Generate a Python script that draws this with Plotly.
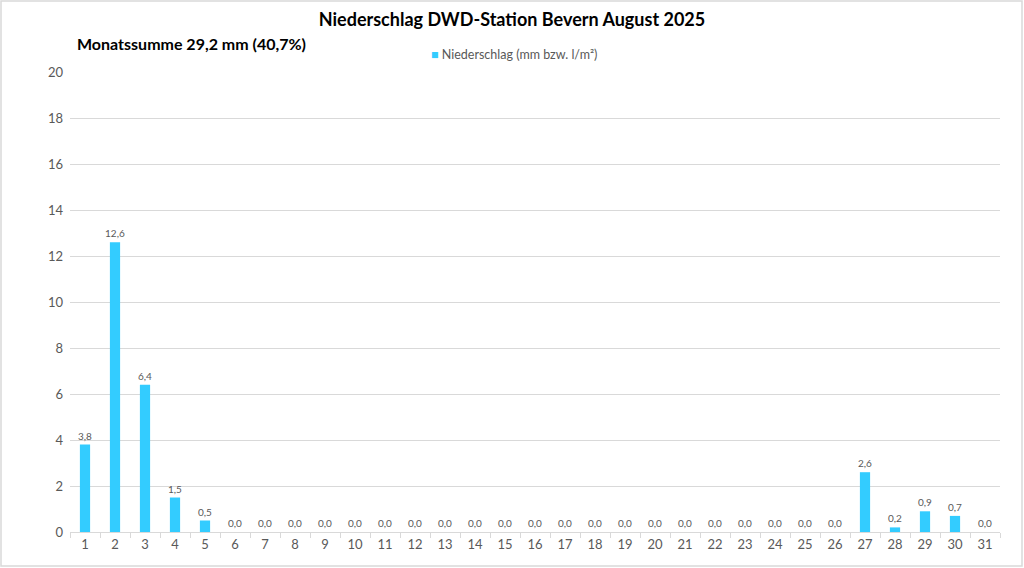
import plotly.graph_objects as go

days = [str(d) for d in range(1, 32)]
rain = [3.8, 12.6, 6.4, 1.5, 0.5, 0.0, 0.0, 0.0, 0.0, 0.0, 0.0, 0.0, 0.0, 0.0, 0.0, 0.0,
        0.0, 0.0, 0.0, 0.0, 0.0, 0.0, 0.0, 0.0, 0.0, 0.0, 2.6, 0.2, 0.9, 0.7, 0.0]
y_ticks = list(range(0, 21, 2))

W, H = 1024, 568
L, R, T, B = 70, 24, 72, 36
pw, ph = W - L - R, H - T - B

font = "Lato, 'Open Sans', sans-serif"
bar_color = "#33CCFF"

fig = go.Figure()
fig.add_trace(go.Bar(
    x=days, y=rain, name="Niederschlag (mm bzw. l/m²)", showlegend=False,
    marker=dict(color=bar_color, line=dict(width=0)),
    texttemplate="%{y:.1f}", textposition="outside", cliponaxis=False, constraintext="none",
    textfont=dict(size=10, color="#595959", family=font),
))

fig.update_layout(
    width=W, height=H, autosize=False,
    separators=",.",
    paper_bgcolor="white", plot_bgcolor="white",
    margin=dict(l=L, r=R, t=T, b=B),
    bargap=0.66,
    font=dict(family=font, color="#595959"),
    title=dict(text="<b>Niederschlag DWD-Station Bevern August 2025</b>",
               x=0.5, xanchor="center", y=1 - 20 / H, yanchor="middle",
               font=dict(size=18, color="#000000", family=font)),
    xaxis=dict(type="category", showgrid=False, showline=True, linecolor="#d9d9d9", linewidth=1,
               ticks="outside", tickson="boundaries", ticklen=5, tickcolor="#d9d9d9",
               tickfont=dict(size=13, color="#595959")),
    yaxis=dict(range=[0, 20], tickvals=y_ticks, showgrid=True, gridcolor="#d9d9d9", gridwidth=1,
               zeroline=False, showline=False, ticks="", ticklabelstandoff=6,
               tickfont=dict(size=13, color="#595959")),
)

# legend entry
fig.add_annotation(text=f"<span style='color:{bar_color}'>■</span> Niederschlag (mm bzw. l/m²)",
                   xref="paper", yref="paper", x=(514 - L) / pw, y=(H - B - 54) / ph,
                   xanchor="center", yanchor="middle", showarrow=False,
                   font=dict(size=12.5, color="#595959", family=font))

fig.add_annotation(text="<b>Monatssumme 29,2 mm (40,7%)</b>", xref="paper", yref="paper",
                   x=(75 - L) / pw, y=(H - B - 44) / ph, xanchor="left", yanchor="middle",
                   showarrow=False, font=dict(size=16, color="#000000", family=font))

fig.add_shape(type="rect", xref="paper", yref="paper",
              x0=(1 - L) / pw, x1=(W - 2 - L) / pw,
              y0=(H - B - (H - 2)) / ph, y1=(H - B - 1) / ph,
              line=dict(color="#d9d9d9", width=1.5), fillcolor="rgba(0,0,0,0)", layer="below")

fig.write_html("out.html", config={"displayModeBar": False},
               post_script="document.body.style.margin='0';")
